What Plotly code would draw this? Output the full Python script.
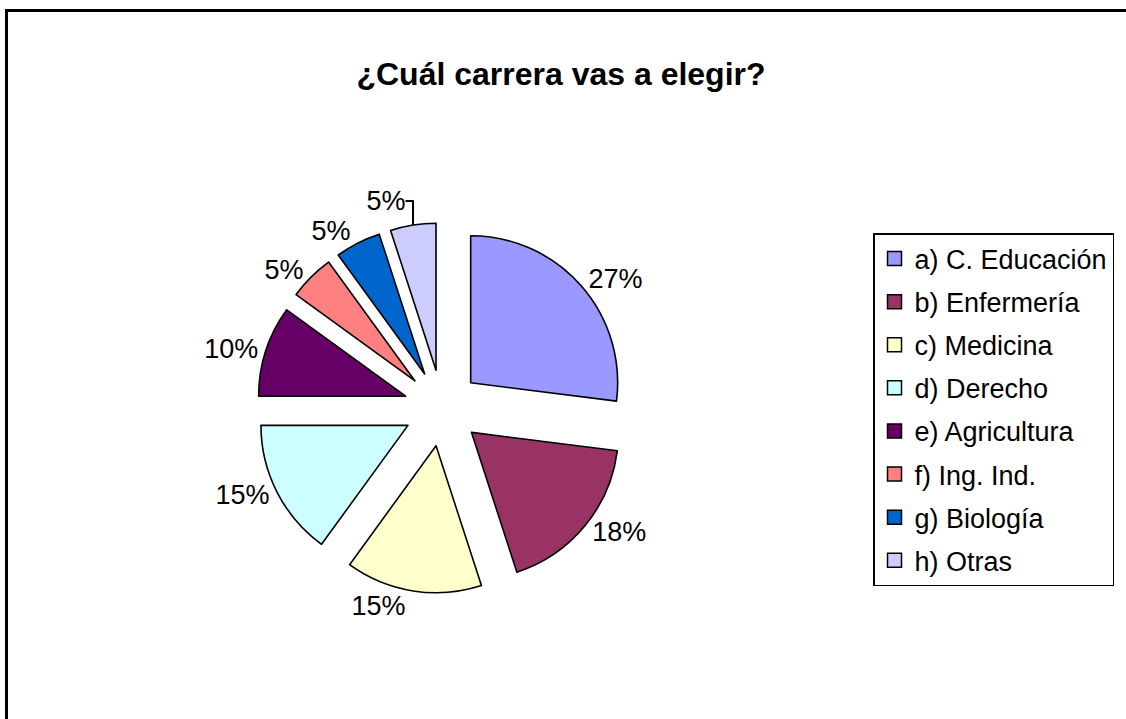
import plotly.graph_objects as go

labels = ["a) C. Educación", "b) Enfermería", "c) Medicina", "d) Derecho",
          "e) Agricultura", "f) Ing. Ind.", "g) Biología", "h) Otras"]
values = [27, 18, 15, 15, 10, 5, 5, 5]
colors = ["#9999FF", "#993366", "#FFFFCC", "#CCFFFF",
          "#660066", "#FF8080", "#0066CC", "#CCCCFF"]
title_text = "¿Cuál carrera vas a elegir?"

W, H = 1126, 719
FONT = "Arial, Liberation Sans, sans-serif"

cx, cy = 442, 408
radius = 147
pull = 0.26
half = radius * (1 + pull)

fig = go.Figure()
fig.add_trace(go.Pie(
    labels=labels, values=values, sort=False, direction="clockwise", rotation=0,
    marker=dict(colors=colors, line=dict(color="black", width=1.6)),
    pull=[pull] * len(values),
    textposition="outside", texttemplate="%{percent:.0%}",
    textfont=dict(family=FONT, size=27, color="black"),
    showlegend=False,
    domain=dict(x=[(cx - half) / W, (cx + half) / W],
                y=[1 - (cy + half) / H, 1 - (cy - half) / H]),
    hoverinfo="label+percent",
))

for i, (lab, col) in enumerate(zip(labels, colors)):
    fig.add_trace(go.Scatter(
        x=[None], y=[None], mode="markers", name=lab, legendgroup=f"g{i}",
        marker=dict(symbol="square", size=14, color=col,
                    line=dict(color="black", width=1.5)),
        showlegend=True, hoverinfo="skip",
    ))

fig.update_layout(
    width=W, height=H,
    margin=dict(l=0, r=0, t=0, b=0),
    paper_bgcolor="white", plot_bgcolor="white",
    xaxis=dict(visible=False), yaxis=dict(visible=False),
    title=dict(text="<b>" + title_text + "</b>", x=561 / W, xanchor="center",
               y=1 - 74 / H, yanchor="middle", yref="container",
               font=dict(family=FONT, size=32, color="black")),
    legend=dict(x=873 / W, xanchor="left", y=1 - 233 / H, yanchor="top",
                bordercolor="black", borderwidth=1.5, bgcolor="white",
                font=dict(family=FONT, size=27, color="black"),
                tracegroupgap=5, traceorder="grouped"),
    shapes=[dict(type="rect", xref="paper", yref="paper",
                 x0=6.5 / W, x1=1.2, y0=-0.2, y1=1 - 10.5 / H,
                 line=dict(color="black", width=3))],
)

fig.write_html("out.html",
               config={"displayModeBar": False},
               post_script="document.body.style.margin='0px';document.body.style.overflow='hidden';")
